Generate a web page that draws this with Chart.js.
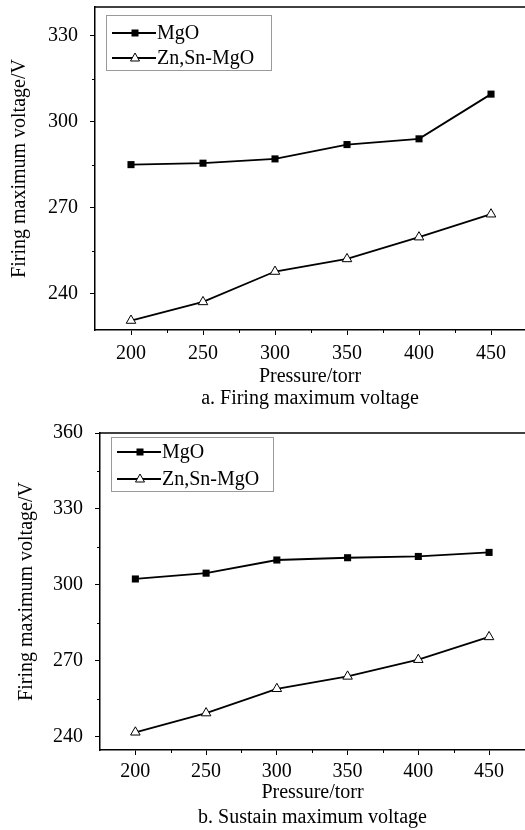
<!DOCTYPE html>
<html>
<head>
<meta charset="utf-8">
<script src="https://cdn.jsdelivr.net/npm/chart.js@4/dist/chart.umd.min.js"></script>
<style>
  html, body { margin: 0; padding: 0; background: #fff; overflow: hidden; }
  .wrap { position: absolute; left: 0; }
</style>
</head>
<body>
<div class="wrap" style="top:0"><canvas id="chartA" width="525" height="420"></canvas></div>
<div class="wrap" style="top:420px"><canvas id="chartB" width="525" height="410"></canvas></div>
<script>
// pressure (torr)
const pressures = [200, 250, 300, 350, 400, 450];
const xTicks = [200, 250, 300, 350, 400, 450];
const xMinor = [225, 275, 325, 375, 425];

// a. firing maximum voltage
const mgoFiring = [285, 285.5, 287, 292, 294, 309.6];
const znSnFiring = [230.6, 237.1, 247.7, 252.1, 259.7, 267.7];
const yTicksA = [240, 270, 300, 330];
const yMinorA = [255, 285, 315];

// b. sustain maximum voltage
const mgoSustain = [302.3, 304.6, 309.8, 310.7, 311.2, 312.8];
const znSnSustain = [241.7, 249.3, 258.9, 263.8, 270.4, 279.4];
const yTicksB = [240, 270, 300, 330, 360];
const yMinorB = [255, 285, 315, 345];

const seriesNames = ['MgO', 'Zn,Sn-MgO'];

const FONT = 'Liberation Serif, Times New Roman, serif';

function toPoints(ys) {
    return pressures.map((x, i) => ({ x: x, y: ys[i] }));
}

// top frame line + minor ticks + boxed legend
const decorPlugin = {
    id: 'decor',
    afterDraw(chart) {
        const ctx = chart.ctx;
        const area = chart.chartArea;
        const opts = chart.options.plugins.decor;
        ctx.save();
        ctx.strokeStyle = '#000';
        ctx.lineWidth = 1.5;
        ctx.beginPath();
        ctx.moveTo(area.left, area.top);
        ctx.lineTo(chart.width, area.top);
        ctx.stroke();

        // minor ticks
        ctx.lineWidth = 1;
        const xs = chart.scales.x, ys = chart.scales.y;
        ctx.beginPath();
        opts.xMinor.forEach(v => {
            const px = Math.round(xs.getPixelForValue(v)) + 0.5;
            ctx.moveTo(px, area.bottom);
            ctx.lineTo(px, area.bottom + 3);
        });
        opts.yMinor.forEach(v => {
            const py = Math.round(ys.getPixelForValue(v)) + 0.5;
            ctx.moveTo(area.left, py);
            ctx.lineTo(area.left - 3, py);
        });
        ctx.stroke();

        // legend
        const bx = area.left + opts.legendX, by = area.top + opts.legendY;
        ctx.strokeStyle = '#9a9a9a';
        ctx.lineWidth = 1;
        ctx.strokeRect(bx + 0.5, by + 0.5, opts.legendW, opts.legendH);
        ctx.font = '20px ' + FONT;
        ctx.textBaseline = 'middle';
        ctx.textAlign = 'left';
        chart.data.datasets.forEach((ds, i) => {
            const ry = by + opts.rowY[i];
            ctx.strokeStyle = '#000';
            ctx.lineWidth = 1.8;
            ctx.beginPath();
            ctx.moveTo(bx + 6, ry);
            ctx.lineTo(bx + 50, ry);
            ctx.stroke();
            const mx = bx + 29;
            ctx.lineWidth = 1;
            if (ds.pointStyle === 'rect') {
                ctx.fillStyle = '#000';
                ctx.fillRect(mx - 3.5, ry - 3.5, 7, 7);
            } else {
                ctx.fillStyle = '#fff';
                ctx.beginPath();
                ctx.moveTo(mx, ry - 5);
                ctx.lineTo(mx + 4.5, ry + 3);
                ctx.lineTo(mx - 4.5, ry + 3);
                ctx.closePath();
                ctx.fill();
                ctx.stroke();
            }
            ctx.fillStyle = '#000';
            ctx.fillText(ds.label, bx + 51, ry + 1);
        });
        ctx.restore();
    }
};

function makeChart(id, cfg) {
    const ctx = document.getElementById(id).getContext('2d');
    return new Chart(ctx, {
        type: 'line',
        data: {
            datasets: [{
                label: seriesNames[0],
                data: toPoints(cfg.mgo),
                borderColor: '#000',
                borderWidth: 1.8,
                pointStyle: 'rect',
                pointRadius: 5,
                pointBackgroundColor: '#000',
                pointBorderColor: '#000',
                pointBorderWidth: 0,
                tension: 0
            }, {
                label: seriesNames[1],
                data: toPoints(cfg.znSn),
                borderColor: '#000',
                borderWidth: 1.8,
                pointStyle: 'triangle',
                pointRadius: 5.5,
                pointBackgroundColor: '#fff',
                pointBorderColor: '#000',
                pointBorderWidth: 1,
                tension: 0
            }]
        },
        options: {
            responsive: false,
            animation: false,
            layout: { autoPadding: false, padding: { top: cfg.top, right: 0, left: 0, bottom: 0 } },
            plugins: {
                legend: { display: false },
                tooltip: { enabled: false },
                decor: cfg.decor
            },
            scales: {
                x: {
                    type: 'linear',
                    min: 175,
                    max: cfg.xMax,
                    afterBuildTicks: s => { s.ticks = xTicks.map(v => ({ value: v })); },
                    afterFit: s => {
                        s.height = cfg.xHeight;
                        s.paddingLeft = 0; s.paddingRight = 0;
                    },
                    grid: { drawOnChartArea: false, tickLength: 5, color: '#000', tickWidth: 1 },
                    border: { display: true, color: '#000', width: 1.5 },
                    ticks: {
                        color: '#000', padding: cfg.xPad, maxRotation: 0,
                        font: { family: FONT, size: 20 }
                    },
                    title: {
                        display: true,
                        text: ['Pressure/torr', cfg.caption],
                        color: '#000',
                        font: { family: FONT, size: 20, lineHeight: cfg.titleLH },
                        padding: { top: 0, bottom: cfg.titlePadB }
                    }
                },
                y: {
                    min: cfg.yMin,
                    max: cfg.yMax,
                    afterBuildTicks: s => { s.ticks = cfg.yTicks.map(v => ({ value: v })); },
                    afterFit: s => {
                        s.width = cfg.yWidth;
                        s.paddingTop = 0; s.paddingBottom = 0;
                    },
                    grid: { drawOnChartArea: false, tickLength: 5, color: '#000', tickWidth: 1 },
                    border: { display: true, color: '#000', width: 1.5 },
                    ticks: {
                        color: '#000', padding: 12,
                        font: { family: FONT, size: 20 }
                    },
                    title: {
                        display: true,
                        text: 'Firing maximum voltage/V',
                        color: '#000',
                        font: { family: FONT, size: 20 },
                        padding: { top: cfg.yTitlePad, bottom: 0 }
                    }
                }
            }
        },
        plugins: [decorPlugin]
    });
}

makeChart('chartA', {
    mgo: mgoFiring, znSn: znSnFiring,
    yTicks: yTicksA, yMin: 227.3, yMax: 340, xMax: 473.6,
    top: 7, xHeight: 90, yWidth: 95, xPad: 7, titleLH: 1.1, titlePadB: 10, yTitlePad: 8,
    caption: 'a. Firing maximum voltage',
    decor: { xMinor: xMinor, yMinor: yMinorA, legendX: 11, legendY: 8, legendW: 165, legendH: 55, rowY: [18, 43] }
});

makeChart('chartB', {
    mgo: mgoSustain, znSn: znSnSustain,
    yTicks: yTicksB, yMin: 234.7, yMax: 360, xMax: 475.4,
    top: 13, xHeight: 80, yWidth: 100, xPad: 5, titleLH: 1.25, titlePadB: 0, yTitlePad: 15,
    caption: 'b. Sustain maximum voltage',
    decor: { xMinor: xMinor, yMinor: yMinorB, legendX: 11, legendY: 4, legendW: 162, legendH: 54, rowY: [15, 42] }
});
</script>
</body>
</html>
